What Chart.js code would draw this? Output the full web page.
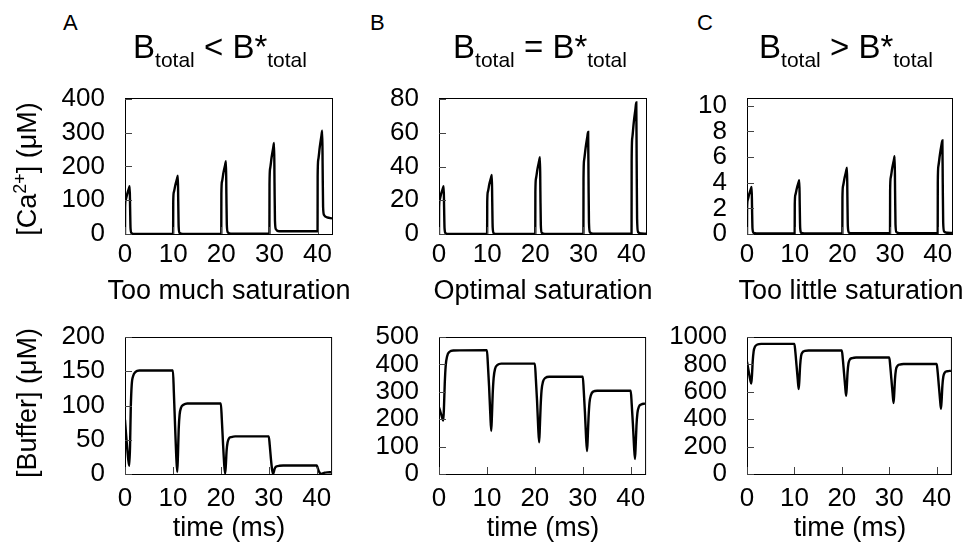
<!DOCTYPE html>
<html>
<head>
<meta charset="utf-8">
<title>Buffer saturation</title>
<script src="https://cdn.jsdelivr.net/npm/chart.js@4.4.1/dist/chart.umd.min.js"></script>
<style>
  html, body { margin: 0; padding: 0; background: #fff; }
  #fig { position: relative; width: 969px; height: 551px; overflow: hidden;
         font-family: "Liberation Sans", Arial, sans-serif; color: #000; }
  #fig canvas { position: absolute; }
  .lbl { position: absolute; line-height: 1; white-space: nowrap; z-index: 2; }
  .letter { font-size: 22px; }
  .title { font-size: 33px; transform: translateX(-50%); }
  .title .sub { font-size: 21px; position: relative; top: 9px; }
  .xtitle { font-size: 27px; transform: translate(-50%, -50%); }
  .ytitle { font-size: 27px; transform: translate(-50%, -50%) rotate(-90deg); }
  .ytitle .sup { font-size: 18px; position: relative; top: -10px; }
</style>
</head>
<body>
<div id="fig">
  <div class="lbl letter" style="left:63px; top:12px;">A</div>
  <div class="lbl letter" style="left:370px; top:12px;">B</div>
  <div class="lbl letter" style="left:697px; top:12px;">C</div>

  <div class="lbl title" style="left:220px; top:30px;">B<span class="sub">total</span> &lt; B*<span class="sub">total</span></div>
  <div class="lbl title" style="left:540px; top:30px;">B<span class="sub">total</span> = B*<span class="sub">total</span></div>
  <div class="lbl title" style="left:846px; top:30px;">B<span class="sub">total</span> &gt; B*<span class="sub">total</span></div>

  <div class="lbl ytitle" style="left:27px; top:169px;">[Ca<span class="sup">2+</span>] (μM)</div>
  <div class="lbl ytitle" style="left:27px; top:403px;">[Buffer] (μM)</div>

  <div class="lbl xtitle" style="left:229px; top:290px;">Too much saturation</div>
  <div class="lbl xtitle" style="left:543px; top:290px;">Optimal saturation</div>
  <div class="lbl xtitle" style="left:851px; top:290px;">Too little saturation</div>
  <div class="lbl xtitle" style="left:229px; top:527px;">time (ms)</div>
  <div class="lbl xtitle" style="left:543px; top:527px;">time (ms)</div>
  <div class="lbl xtitle" style="left:850px; top:527px;">time (ms)</div>
</div>

<script>
// time grid for the calcium spikes (ms)
const spikeTime = [
  0, 0.02, 0.15, 0.45, 0.8, 0.98, 1.06, 1.15, 1.35, 2,
  10, 10.02, 10.15, 10.45, 10.8, 10.98, 11.06, 11.15, 11.35, 12,
  20, 20.02, 20.15, 20.45, 20.8, 20.98, 21.06, 21.15, 21.35, 22,
  30, 30.02, 30.15, 30.45, 30.8, 30.98, 31.06, 31.15, 31.35, 32,
  40, 40.02, 40.15, 40.45, 40.8, 40.98, 41.06, 41.15, 41.35, 42, 43
];

// [Ca2+] (uM)
const caA = [
  0, 78, 101, 118, 134, 141, 78, 17, 3, 0,
  0, 95, 124, 144, 163, 172, 95, 21, 3, 0.5,
  0.5, 118, 155, 181, 204, 215, 118, 28, 5, 1,
  1, 148, 194, 226, 256, 269, 150, 40, 14, 8,
  8, 170, 220, 256, 290, 305, 190, 80, 56, 49, 46
];
const caB = [
  0, 15.5, 20.5, 24, 27, 28.4, 15.5, 3.5, 0.5, 0,
  0, 19, 25, 29.5, 33.3, 35, 19, 4, 0.5, 0,
  0, 25, 33, 38.5, 43.3, 45.6, 25, 5.5, 0.7, 0,
  0, 33, 44, 51, 57.5, 60.5, 33, 7, 1, 0.2,
  0.2, 43, 57, 66, 74, 78, 43, 9, 1.2, 0.3, 0.2
];
const caC = [
  0, 2.0, 2.65, 3.1, 3.5, 3.66, 2.0, 0.45, 0.1, 0.05,
  0.05, 2.3, 3.05, 3.55, 4.0, 4.2, 2.3, 0.5, 0.1, 0.05,
  0.05, 2.85, 3.75, 4.35, 4.9, 5.17, 2.85, 0.62, 0.12, 0.06,
  0.06, 3.35, 4.4, 5.1, 5.75, 6.07, 3.35, 0.75, 0.14, 0.07,
  0.07, 4.0, 5.3, 6.15, 6.95, 7.3, 4.0, 0.9, 0.2, 0.1, 0.08
];

// time grid for free buffer (ms)
const dipTime = [
  0, 0.2, 0.45, 0.7, 0.9, 1.05, 1.2, 1.4, 1.7, 2.2, 3,
  10, 10.2, 10.45, 10.7, 10.9, 11.05, 11.2, 11.4, 11.7, 12.2, 13,
  20, 20.2, 20.45, 20.7, 20.9, 21.05, 21.2, 21.4, 21.7, 22.2, 23,
  30, 30.2, 30.45, 30.7, 30.9, 31.05, 31.2, 31.4, 31.7, 32.2, 33,
  40, 40.2, 40.45, 40.7, 40.9, 41.05, 41.2, 41.4, 41.7, 42.2, 43
];

// [Buffer] (uM)
const bufA = [
  79, 60, 38, 20, 12, 40, 95, 130, 143, 149, 151,
  151, 118, 70, 25, 3, 28, 65, 87, 97, 101, 103,
  103, 80, 45, 14, 0.5, 14, 34, 46, 52, 54, 55,
  55, 42, 22, 6, 0.2, 3, 7, 10, 11.3, 12, 12.5,
  12.5, 9, 4, 1, 0, 0.3, 0.8, 1.4, 2, 2.4, 2.6
];
const bufB = [
  243, 232, 218, 203, 195, 250, 330, 395, 430, 446, 451,
  452, 400, 320, 220, 157, 215, 290, 350, 384, 398, 403,
  403, 350, 270, 170, 116, 175, 245, 305, 337, 351, 355,
  355, 305, 225, 130, 84, 140, 205, 260, 288, 301, 304,
  304, 258, 185, 100, 55, 110, 175, 222, 245, 254, 257
];
const bufC = [
  820, 780, 730, 685, 660, 720, 820, 895, 930, 945, 950,
  950, 890, 790, 690, 620, 690, 790, 860, 888, 898, 902,
  902, 840, 740, 640, 571, 640, 740, 808, 836, 846, 850,
  850, 790, 690, 590, 518, 590, 690, 760, 788, 799, 803,
  803, 745, 645, 545, 476, 545, 645, 712, 740, 750, 753
];

// tick values
const xTicks = [0, 10, 20, 30, 40];
const caTicksA = [0, 100, 200, 300, 400];
const caTicksB = [0, 20, 40, 60, 80];
const caTicksC = [0, 2, 4, 6, 8, 10];
const bufTicksA = [0, 50, 100, 150, 200];
const bufTicksB = [0, 100, 200, 300, 400, 500];
const bufTicksC = [0, 200, 400, 600, 800, 1000];

const FONT = '"Liberation Sans", Arial, sans-serif';
const tickFont = { family: FONT, size: 26, lineHeight: 1 };

// frame box and short inward ticks, gnuplot style
const frameTicks = {
  id: 'frameTicks',
  afterDraw(chart) {
    const { ctx, chartArea: a, scales: { x, y } } = chart;
    ctx.save();
    ctx.strokeStyle = '#000';
    ctx.lineWidth = 1;
    ctx.strokeRect(a.left + 0.5, a.top + 0.5, a.right - a.left, a.bottom - a.top);
    ctx.strokeStyle = '#444';
    ctx.beginPath();
    y.ticks.forEach(t => {
      const py = Math.round(y.getPixelForValue(t.value)) + 0.5;
      ctx.moveTo(a.left, py);
      ctx.lineTo(a.left + 7, py);
    });
    x.ticks.forEach(t => {
      const px = Math.round(x.getPixelForValue(t.value)) + 0.5;
      ctx.moveTo(px, a.bottom);
      ctx.lineTo(px, a.bottom - 7);
    });
    ctx.stroke();
    ctx.restore();
  }
};

const fig = document.getElementById('fig');

function makePanel(p) {
  const wy = 90, padTop = 20, padRight = 12, hx = 45;
  const w = wy + p.plotW + padRight;
  const h = padTop + p.plotH + hx;
  const canvas = document.createElement('canvas');
  canvas.width = w;
  canvas.height = h;
  canvas.style.left = (p.left - wy) + 'px';
  canvas.style.top = (p.top - padTop) + 'px';
  canvas.style.width = w + 'px';
  canvas.style.height = h + 'px';
  fig.appendChild(canvas);

  return new Chart(canvas, {
    type: 'line',
    data: {
      datasets: [{
        data: p.times.map((t, i) => ({ x: t, y: p.values[i] })),
        borderColor: '#000',
        borderWidth: 2.4,
        pointRadius: 0,
        cubicInterpolationMode: 'monotone',
        fill: false
      }]
    },
    options: {
      responsive: false,
      animation: false,
      devicePixelRatio: 1,
      layout: { padding: { top: padTop, right: padRight, left: 0, bottom: 0 } },
      plugins: { legend: { display: false }, tooltip: { enabled: false } },
      scales: {
        x: {
          type: 'linear',
          min: 0,
          max: 43,
          grid: { display: false, drawTicks: false },
          border: { display: false },
          afterBuildTicks: s => { s.ticks = xTicks.map(v => ({ value: v })); },
          afterFit: s => { s.height = hx; },
          ticks: { font: tickFont, color: '#000', padding: p.padX, maxRotation: 0, autoSkip: false,
                   callback: v => String(v) }
        },
        y: {
          type: 'linear',
          min: 0,
          max: p.yMax,
          grid: { display: false, drawTicks: false },
          border: { display: false },
          afterBuildTicks: s => { s.ticks = p.yTicks.map(v => ({ value: v })); },
          afterFit: s => { s.width = wy; },
          ticks: { font: tickFont, color: '#000', padding: 20, autoSkip: false,
                   callback: v => String(v) }
        }
      }
    },
    plugins: [frameTicks]
  });
}

// top row: calcium
makePanel({ left: 125, top: 85, plotW: 207, plotH: 149, padX: 8,
  times: spikeTime, values: caA, yMax: 402, yTicks: caTicksA });
makePanel({ left: 439, top: 85, plotW: 207, plotH: 149, padX: 8,
  times: spikeTime, values: caB, yMax: 80.7, yTicks: caTicksB });
makePanel({ left: 747, top: 85, plotW: 205, plotH: 149, padX: 8,
  times: spikeTime, values: caC, yMax: 10.6, yTicks: caTicksC });

// bottom row: free buffer
makePanel({ left: 125, top: 324, plotW: 207, plotH: 150, padX: 12,
  times: dipTime, values: bufA, yMax: 200, yTicks: bufTicksA });
makePanel({ left: 439, top: 324, plotW: 207, plotH: 150, padX: 12,
  times: dipTime, values: bufB, yMax: 500, yTicks: bufTicksB });
makePanel({ left: 747, top: 324, plotW: 205, plotH: 150, padX: 12,
  times: dipTime, values: bufC, yMax: 1000, yTicks: bufTicksC });
</script>
</body>
</html>
